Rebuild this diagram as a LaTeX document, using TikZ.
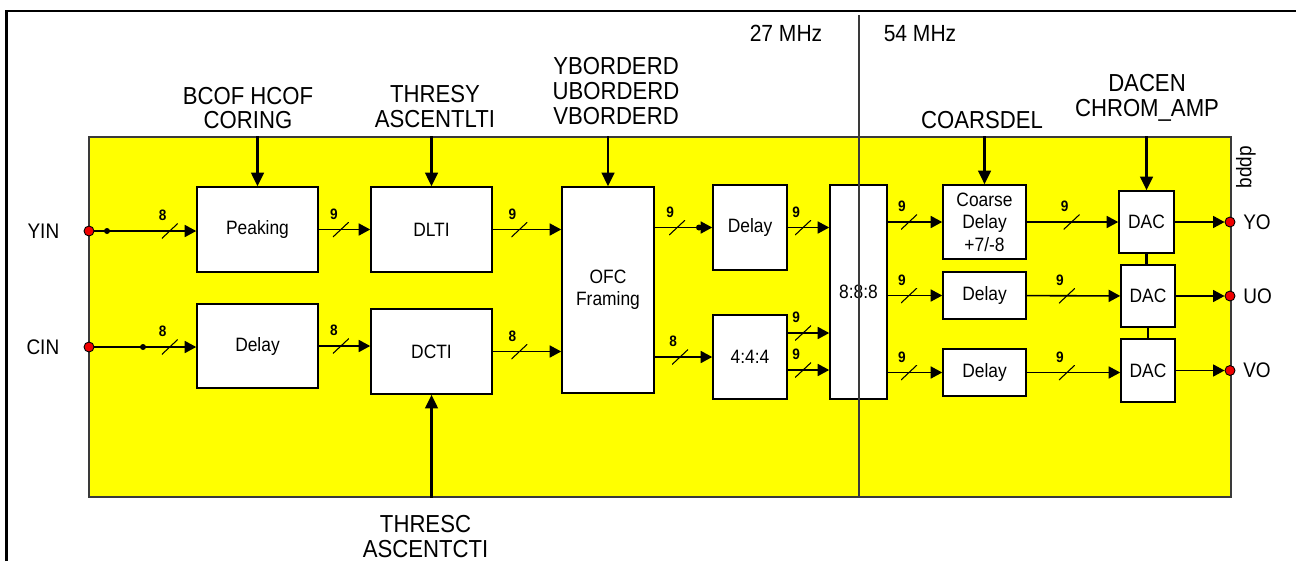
\documentclass[tikz,border=0pt]{standalone}
\usepackage{fontspec}
\setmainfont{Liberation Sans}[FakeStretch=0.9]
\usetikzlibrary{arrows.meta,positioning,calc}
\definecolor{chipyellow}{HTML}{FFFF00}
\definecolor{pinred}{HTML}{F00000}
\definecolor{rule}{HTML}{3A3A3A}
\tikzset{arr/.style={-{Triangle[length=2.3mm,width=2.4mm]},line width=0.9pt},
  ctl/.style={-{Triangle[length=2.7mm,width=2.5mm]},line width=1.5pt},
  blk/.style={draw,line width=0.9pt,fill=white,align=center,inner sep=2pt,font=\fontsize{11}{12.8}\selectfont},
  chipbox/.style={draw=rule,line width=1pt,fill=chipyellow},
  lbl/.style={align=center,inner sep=0pt,font=\fontsize{14}{14.2}\selectfont},
  pinlbl/.style={inner sep=0pt,font=\fontsize{12}{14}\selectfont},
  pin/.style={circle,draw,fill=pinred,line width=0.5pt,minimum size=2mm,inner sep=0pt},
  jdot/.style={circle,fill=black,minimum size=1.2mm,inner sep=0pt},
  bitnum/.style={inner sep=0.5pt,font=\bfseries\fontsize{8.6}{9}\selectfont},
  bus/.style={minimum width=3.2mm,minimum height=3mm,inner sep=0pt,
    path picture={\draw[-,line width=0.6pt] (path picture bounding box.south west) -- (path picture bounding box.north east);},
    label={[bitnum,xshift=-1.4mm]above:#1}}}

\begin{document}
\begin{tikzpicture}
\useasboundingbox (0,0) rectangle (25.92,-11.22);
\draw[line width=1.2pt] (0.13,-11.22) -- (0.13,-0.22) -- (25.92,-0.22);
\node[chipbox,minimum width=22.84cm,minimum height=7.2cm] (chip) at (13.2,-6.34) {};
\node[rotate=90,font=\fontsize{12}{12}\selectfont,inner sep=0pt] (bddp) at (24.92,-3.34) {bddp};

% 27 MHz part
\node[blk,minimum width=2.42cm,minimum height=1.7cm] (peak) at (5.15,-4.59) {Peaking};
\node[blk,minimum width=2.42cm,minimum height=1.68cm] (dlyc) at (5.15,-6.92) {Delay};
\node[blk,minimum width=2.42cm,minimum height=1.7cm] (dlti) at (8.63,-4.59) {DLTI};
\node[blk,minimum width=2.42cm,minimum height=1.7cm] (dcti) at (8.63,-7.03) {DCTI};
\node[blk,minimum width=1.84cm,minimum height=4.12cm] (ofc) at (12.16,-5.8) {OFC\\Framing};
\node[blk,minimum width=1.48cm,minimum height=1.7cm] (dly) at (15.0,-4.55) {Delay};
\node[blk,minimum width=1.48cm,minimum height=1.68cm] (q) at (15.0,-7.14) {4:4:4};
\node[blk,minimum width=1.14cm,minimum height=4.28cm] (m) at (17.17,-5.84) {8:8:8};

% 54 MHz part
\node[blk,minimum width=1.66cm,minimum height=1.48cm] (cdl) at (19.69,-4.44) {Coarse\\Delay\\+7/-8};
\node[blk,minimum width=1.66cm,minimum height=0.94cm] (dlu) at (19.69,-5.91) {Delay};
\node[blk,minimum width=1.66cm,minimum height=0.94cm] (dlv) at (19.69,-7.45) {Delay};
\node[blk,minimum width=1.1cm,minimum height=1.24cm] (dacy) at (22.93,-4.44) {DAC};
\node[blk,minimum width=1.08cm,minimum height=1.24cm] (dacu) at (22.96,-5.92) {DAC};
\node[blk,minimum width=1.08cm,minimum height=1.26cm] (dacv) at (22.96,-7.41) {DAC};

% pins
\node[pin] (yin) at (1.78,-4.62) {};
\node[pin] (cin) at (1.78,-6.94) {};
\node[pin] (yo) at (24.6,-4.44) {};
\node[pin] (uo) at (24.6,-5.92) {};
\node[pin] (vo) at (24.6,-7.41) {};
\node[pinlbl,left=0.48cm of yin] {YIN};
\node[pinlbl,left=0.48cm of cin] {CIN};
\node[pinlbl,right=0.15cm of yo] {YO};
\node[pinlbl,right=0.15cm of uo] {UO};
\node[pinlbl,right=0.15cm of vo] {VO};

% register labels
\node[lbl,anchor=north] (bcof) at (4.96,-1.73) {BCOF HCOF\\CORING};
\node[lbl,anchor=north] (thy) at (8.7,-1.7) {THRESY\\ASCENTLTI};
\node[lbl,anchor=north] (bord) at (12.32,-1.14) {YBORDERD\\UBORDERD\\VBORDERD};
\node[lbl,anchor=north] (cdel) at (19.64,-2.22) {COARSDEL};
\node[lbl,anchor=north] (dacen) at (22.94,-1.48) {DACEN\\CHROM\_AMP};
\node[lbl,anchor=north] (thc) at (8.51,-10.3) {THRESC\\ASCENTCTI};
\node[lbl,anchor=north,font=\fontsize{13.3}{14}\selectfont] (f27) at (15.72,-0.5) {27 MHz};
\node[lbl,anchor=north,font=\fontsize{13.3}{14}\selectfont] (f54) at (18.4,-0.5) {54 MHz};

% data path
\draw[arr] (yin) -- node[bus=8,pos=0.74] {} (yin -| peak.west);
\draw[arr] (cin) -- node[bus=8,pos=0.74] {} (cin -| dlyc.west);
\node[jdot] (yj) at (2.14,-4.62) {};
\node[jdot] (cj) at (2.86,-6.94) {};
\draw[arr] (peak) -- node[bus=9,pos=0.43] {} (dlti);
\draw[arr] (dlyc.east) -- node[bus=8,pos=0.43] {} (dlyc.east -| dcti.west);
\draw[arr] (dlti) -- node[bus=9,pos=0.39] {} (ofc.west |- dlti);
\draw[arr] (dcti.east) -- node[bus=8,pos=0.39] {} (dcti.east -| ofc.west);
\draw[arr] (ofc.east |- dly) -- node[bus=9,pos=0.39] {} (dly.west);
\node[jdot] (dj) at (13.98,-4.55) {};
\draw[arr] (ofc.east |- q) -- node[bus=8,pos=0.44] {} (q.west);
\draw[arr] (dly.east) -- node[bus=9,pos=0.37] {} (dly.east -| m.west);
\draw[arr] ([yshift=0.48cm]q.east) -- node[bus=9,pos=0.37] {} ([yshift=0.48cm]q.east -| m.west);
\draw[arr] ([yshift=-0.26cm]q.east) -- node[bus=9,pos=0.37] {} ([yshift=-0.26cm]q.east -| m.west);
\draw[arr] (m.east |- cdl) -- node[bus=9,pos=0.39] {} (cdl.west);
\draw[arr] (m.east |- dlu) -- node[bus=9,pos=0.39] {} (dlu.west);
\draw[arr] (m.east |- dlv) -- node[bus=9,pos=0.39] {} (dlv.west);
\draw[arr] (cdl) -- node[bus=9,pos=0.49] {} (dacy);
\draw[arr] (dlu) -- node[bus=9,pos=0.43] {} (dacu);
\draw[arr] (dlv.east) -- node[bus=9,pos=0.43] {} (dlv.east -| dacv.west);
\draw[arr] (dacy) -- (yo);
\draw[arr] (dacu) -- (uo);
\draw[arr] (dacv) -- (vo);
\draw[line width=1.2pt] (dacy.south) -- (dacy.south |- dacu.north);
\draw[line width=1.2pt] (dacu.south) -- (dacu.south |- dacv.north);

% control inputs
\draw[ctl] (chip.north -| peak) -- (peak.north);
\draw[ctl] (chip.north -| dlti) -- (dlti.north);
\draw[ctl] (chip.north -| ofc) -- (ofc.north);
\draw[ctl] (chip.north -| cdl) -- (cdl.north);
\draw[ctl] (chip.north -| dacy) -- (dacy.north);
\draw[ctl] (chip.south -| dcti) -- (dcti.south);

% clock domain split
\coordinate (divtop) at (17.18,-0.3);
\draw[draw=rule,line width=0.8pt] (divtop) -- (divtop |- chip.south);
\end{tikzpicture}
\end{document}
